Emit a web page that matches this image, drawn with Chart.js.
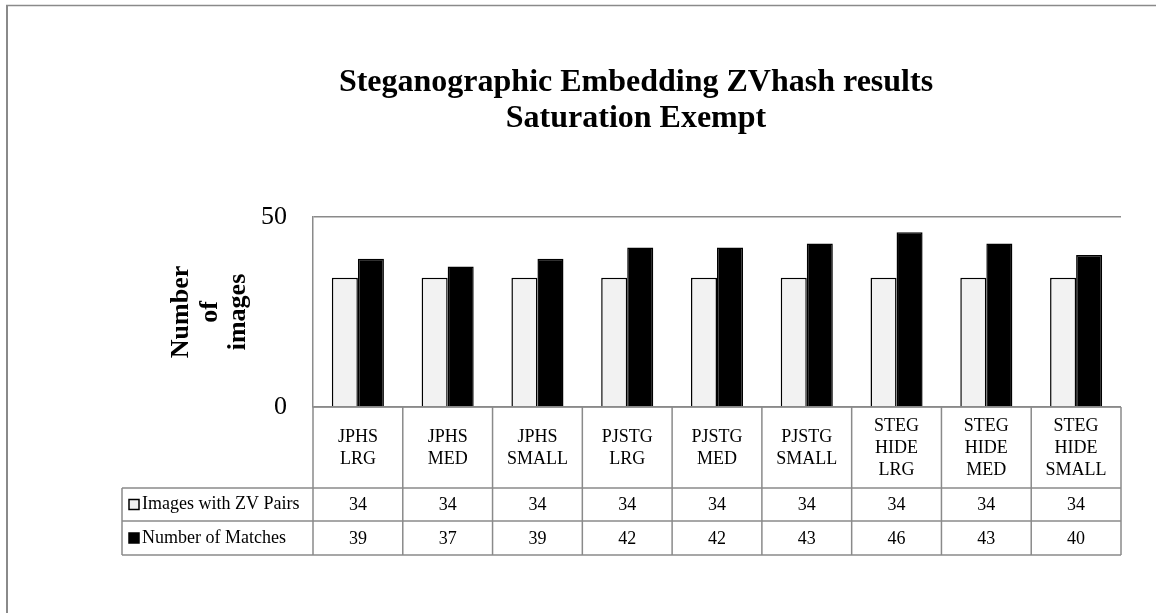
<!DOCTYPE html>
<html>
<head>
<meta charset="utf-8">
<script src="https://cdn.jsdelivr.net/npm/chart.js@4.4.1/dist/chart.umd.min.js"></script>
<style>
  html, body { margin: 0; padding: 0; background: #fff; }
  #wrap { width: 1156px; height: 613px; position: relative; }
</style>
</head>
<body>
<div id="wrap"><canvas id="myChart" width="1156" height="613"></canvas></div>
<script>
// values
const categories = [
    ['JPHS', 'LRG'], ['JPHS', 'MED'], ['JPHS', 'SMALL'],
    ['PJSTG', 'LRG'], ['PJSTG', 'MED'], ['PJSTG', 'SMALL'],
    ['STEG', 'HIDE', 'LRG'], ['STEG', 'HIDE', 'MED'], ['STEG', 'HIDE', 'SMALL']
];
const seriesNames = ['Images with ZV Pairs', 'Number of Matches'];
const zvPairs = [34, 34, 34, 34, 34, 34, 34, 34, 34];
const matches = [39, 37, 39, 42, 42, 43, 46, 43, 40];
const yTicks = [0, 50];
const titleLines = ['Steganographic Embedding ZVhash results', 'Saturation Exempt'];
const yTitleLines = ['Number', 'of', 'images'];

const SERIF = "'Liberation Serif', 'Times New Roman', serif";
const LINE = '#8a8a8a';
const fills = ['#f2f2f2', '#000000'];

function seg(ctx, x1, y1, x2, y2) {
    ctx.beginPath();
    ctx.moveTo(x1, y1);
    ctx.lineTo(x2, y2);
    ctx.stroke();
}

// title, y title, data table and frame drawn around the chart area
const extras = {
    id: 'extras',
    afterDraw(chart) {
        const ctx = chart.ctx;
        const a = chart.chartArea;
        const n = categories.length;
        const colW = (a.right - a.left) / n;
        const catBottom = a.bottom + 81;
        const row1 = catBottom + 33;
        const row2 = row1 + 34;
        const legLeft = 122;

        ctx.save();

        // frame
        ctx.strokeStyle = LINE;
        ctx.lineWidth = 2;
        seg(ctx, 7, 5, 7, 613);
        ctx.lineWidth = 1.5;
        seg(ctx, 6, 5.5, 1156, 5.5);

        // title
        ctx.fillStyle = '#000';
        ctx.textAlign = 'center';
        ctx.textBaseline = 'alphabetic';
        ctx.font = 'bold 32px ' + SERIF;
        ctx.fillText(titleLines[0], 636, 91);
        ctx.fillText(titleLines[1], 636, 127);

        // y axis title, three rotated lines
        ctx.font = 'bold 26px ' + SERIF;
        const cy = (a.top + a.bottom) / 2;
        const baseX = [188, 217, 245];
        yTitleLines.forEach((t, i) => {
            ctx.save();
            ctx.translate(baseX[i], cy);
            ctx.rotate(-Math.PI / 2);
            ctx.fillText(t, 0, 0);
            ctx.restore();
        });

        // table grid
        ctx.strokeStyle = LINE;
        ctx.lineWidth = 1.5;
        seg(ctx, a.left, a.bottom, a.right, a.bottom);
        seg(ctx, legLeft, catBottom, a.right, catBottom);
        seg(ctx, legLeft, row1, a.right, row1);
        seg(ctx, legLeft, row2, a.right, row2);
        seg(ctx, legLeft, catBottom, legLeft, row2);
        for (let i = 0; i <= n; i++) {
            const x = a.left + i * colW;
            seg(ctx, x, a.bottom, x, row2);
        }

        // category labels
        ctx.fillStyle = '#000';
        ctx.font = '18px ' + SERIF;
        ctx.textAlign = 'center';
        ctx.textBaseline = 'middle';
        const catMid = (a.bottom + catBottom) / 2 + 0.5;
        categories.forEach((lines, i) => {
            const x = a.left + (i + 0.5) * colW;
            const y0 = catMid - (lines.length - 1) * 22 / 2;
            lines.forEach((t, j) => ctx.fillText(t, x, y0 + j * 22));
        });

        // value rows with legend keys
        const rows = [[catBottom, row1, zvPairs], [row1, row2, matches]];
        rows.forEach(([top, bot, vals], r) => {
            const my = (top + bot) / 2;
            ctx.textAlign = 'center';
            vals.forEach((v, i) => ctx.fillText(String(v), a.left + (i + 0.5) * colW, my + 1));
            ctx.fillStyle = fills[r];
            ctx.fillRect(129, my - 5, 10, 10);
            ctx.strokeStyle = '#000';
            ctx.lineWidth = 1.5;
            ctx.strokeRect(129, my - 5, 10, 10);
            ctx.fillStyle = '#000';
            ctx.textAlign = 'left';
            ctx.fillText(seriesNames[r], 142, my);
        });

        ctx.restore();
    }
};

const ctx = document.getElementById('myChart').getContext('2d');
const myChart = new Chart(ctx, {
    type: 'bar',
    data: {
        labels: categories,
        datasets: [
            {
                label: seriesNames[0],
                data: zvPairs,
                backgroundColor: fills[0],
                borderColor: '#000',
                borderWidth: 1.5
            },
            {
                label: seriesNames[1],
                data: matches,
                backgroundColor: fills[1],
                borderColor: '#000',
                borderWidth: 1.5
            }
        ]
    },
    options: {
        responsive: false,
        devicePixelRatio: 1,
        animation: false,
        layout: {
            padding: { top: 217, bottom: 206, left: 0, right: 35 }
        },
        datasets: {
            bar: { categoryPercentage: 0.58, barPercentage: 1.0 }
        },
        plugins: {
            legend: { display: false },
            title: { display: false },
            tooltip: { enabled: false }
        },
        scales: {
            x: { display: false },
            y: {
                min: yTicks[0],
                max: yTicks[yTicks.length - 1],
                afterBuildTicks: (scale) => {
                    scale.ticks = yTicks.map(v => ({ value: v }));
                },
                afterFit: (scale) => {
                    scale.width = 313;
                },
                ticks: {
                    color: '#000',
                    padding: 26,
                    font: { family: SERIF, size: 26 }
                },
                grid: {
                    color: LINE,
                    lineWidth: 1.5,
                    drawTicks: false
                },
                border: { display: true, color: LINE, width: 1.5 }
            }
        }
    },
    plugins: [extras]
});
</script>
</body>
</html>
